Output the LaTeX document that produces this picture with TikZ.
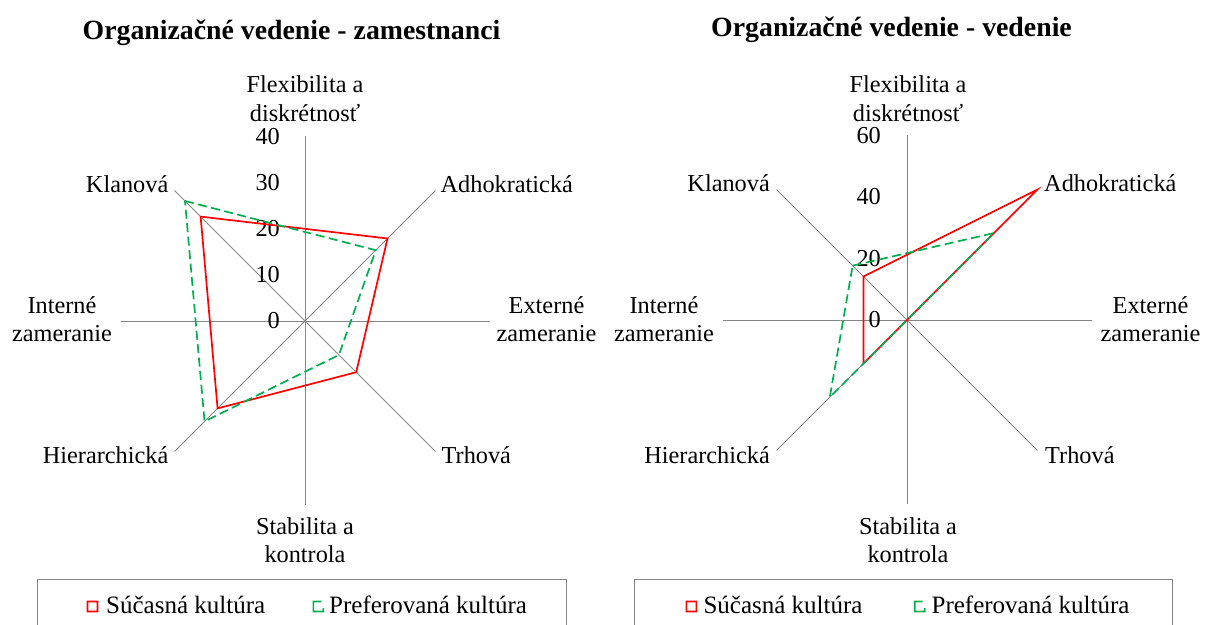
\documentclass[tikz,border=0pt]{standalone}
\usepackage{fontspec}
\setmainfont{Liberation Serif}
\usetikzlibrary{calc}
\definecolor{axisgray}{RGB}{134,134,134}
\definecolor{curred}{RGB}{255,0,0}
\definecolor{prefgreen}{RGB}{0,176,80}
\tikzset{
  axisline/.style={draw=axisgray, line width=0.9pt},
  lbl/.style={font=\fontsize{24.3}{28.4}\selectfont, inner sep=0pt, align=center},
  ticklbl/.style={font=\fontsize{24.3}{28.4}\selectfont, inner sep=0pt, anchor=east},
  charttitle/.style={font=\bfseries\fontsize{27.8}{32}\selectfont, inner sep=0pt, anchor=base},
  legtext/.style={font=\fontsize{25}{29}\selectfont, inner sep=0pt, anchor=base west},
  current/.style={draw=curred, line width=1.7pt, line join=miter},
  preferred/.style={draw=prefgreen, line width=1.7pt, line join=miter, dash pattern=on 9pt off 4.5pt},
  legendbox/.style={draw=axisgray, line width=0.9pt},
  redkey/.style={fill=curred, even odd rule},
  greenkey/.style={fill=prefgreen},
}
\def\R{184.5}
% legend key for the current culture: a red square frame
\newcommand\curkey[1]{%
  \fill[redkey] ($(#1)+(-5.8,-5.8)$) rectangle ($(#1)+(5.8,5.8)$)
                ($(#1)+(-4.2,-4.2)$) rectangle ($(#1)+(4.2,4.2)$);}
% legend key for the preferred culture: a broken green square frame
\newcommand\prefkey[1]{%
  \fill[greenkey] ($(#1)+(-5.8,-5.8)$) rectangle ($(#1)+(-4.2,5.8)$)
                  ($(#1)+(-5.8,4.2)$) rectangle ($(#1)+(3,5.8)$)
                  ($(#1)+(-5.8,-5.8)$) rectangle ($(#1)+(5.8,-4.2)$)
                  ($(#1)+(4.2,-5.8)$) rectangle ($(#1)+(5.8,-1.5)$);}
\begin{document}
\begin{tikzpicture}[x=1pt,y=1pt]
\useasboundingbox (0,0) rectangle (1205,624);

% ---------------- left chart: employees ----------------
\node[charttitle] (titleL) at (291.5,584) {Organizačné vedenie - zamestnanci};
\begin{scope}[shift={(305,303)}]
  \coordinate (lO) at (0,0);
  \coordinate (lN) at (90:\R);   \coordinate (lS) at (-90:\R);
  \coordinate (lE) at (0:\R);    \coordinate (lW) at (180:\R);
  \coordinate (lNE) at (45:\R);  \coordinate (lSW) at (-135:\R);
  \coordinate (lNW) at (135:\R); \coordinate (lSE) at (-45:\R);
  \draw[axisline] (lW) -- (lE);
  \draw[axisline] (lN) -- (lS);
  \draw[axisline] (lNW) -- (lSE);
  \draw[axisline] (lSW) -- (lNE);
  \foreach \k/\val in {0/0,1/10,2/20,3/30,4/40}
    \node[ticklbl] (ltick\k) at (-25,{\k*\R/4}) {\val};
  % current culture
  \coordinate (lrK) at (135:{32*\R/40});
  \coordinate (lrA) at (45:{25.3*\R/40});
  \coordinate (lrT) at (-45:{15.7*\R/40});
  \coordinate (lrH) at (-135:{26.8*\R/40});
  % preferred culture
  \coordinate (lgK) at (135:{36.8*\R/40});
  \coordinate (lgA) at (45:{21.7*\R/40});
  \coordinate (lgT) at (-45:{10.4*\R/40});
  \coordinate (lgH) at (-135:{30.8*\R/40});
  \draw[current] (lrK) -- (lrA) -- (lrT) -- (lrH) -- cycle;
  \draw[preferred] (lgK) -- (lgA) -- (lgT) -- (lgH) -- cycle;
\end{scope}
\node[lbl, anchor=base] (lFlex) at (305,502.8) {Flexibilita a\\diskrétnosť};
\node[lbl, anchor=base east] (lKlan) at (168.5,431) {Klanová};
\node[lbl, anchor=base west] (lAdho) at (440.5,431) {Adhokratická};
\node[lbl, anchor=base] (lInt) at (62,282) {Interné\\zameranie};
\node[lbl, anchor=base] (lExt) at (546.5,282) {Externé\\zameranie};
\node[lbl, anchor=base east] (lHier) at (168.5,160) {Hierarchická};
\node[lbl, anchor=base west] (lTrh) at (441.5,160) {Trhová};
\node[lbl, anchor=base] (lStab) at (305,61) {Stabilita a\\kontrola};

% legend
\draw[legendbox] (37,45) rectangle (566.7,-12);
\coordinate (lkeyR) at (92.5,17.5);
\coordinate (lkeyG) at (318.3,17.5);
\curkey{lkeyR}
\prefkey{lkeyG}
\node[legtext] (lkeyRt) at (106,11) {Súčasná kultúra};
\node[legtext] (lkeyGt) at (329,11) {Preferovaná kultúra};

% ---------------- right chart: management ----------------
\node[charttitle] (titleR) at (891.5,587) {Organizačné vedenie - vedenie};
\begin{scope}[shift={(907,304)}]
  \coordinate (rO) at (0,0);
  \coordinate (rN) at (90:\R);   \coordinate (rS) at (-90:\R);
  \coordinate (rE) at (0:\R);    \coordinate (rW) at (180:\R);
  \coordinate (rNE) at (45:\R);  \coordinate (rSW) at (-135:\R);
  \coordinate (rNW) at (135:\R); \coordinate (rSE) at (-45:\R);
  \draw[axisline] (rW) -- (rE);
  \draw[axisline] (rN) -- (rS);
  \draw[axisline] (rNW) -- (rSE);
  \draw[axisline] (rSW) -- (rNE);
  \foreach \k/\val in {0/0,1/20,2/40,3/60}
    \node[ticklbl] (rtick\k) at (-26,{\k*\R/3}) {\val};
  % current culture
  \coordinate (rrK) at (135:{20*\R/60});
  \coordinate (rrA) at (45:{60*\R/60});
  \coordinate (rrT) at (0,0);
  \coordinate (rrH) at (-135:{20*\R/60});
  % preferred culture
  \coordinate (rgK) at (135:{25*\R/60});
  \coordinate (rgA) at (45:{40*\R/60});
  \coordinate (rgT) at (0,0);
  \coordinate (rgH) at (-135:{35.5*\R/60});
  \draw[current] (rrK) -- (rrA) -- (rrT) -- (rrH) -- cycle;
  \draw[preferred] (rgK) -- (rgA) -- (rgT) -- (rgH) -- cycle;
\end{scope}
\node[lbl, anchor=base] (rFlex) at (908,502.8) {Flexibilita a\\diskrétnosť};
\node[lbl, anchor=base east] (rKlan) at (770,432) {Klanová};
\node[lbl, anchor=base west] (rAdho) at (1044,432) {Adhokratická};
\node[lbl, anchor=base] (rInt) at (664,282) {Interné\\zameranie};
\node[lbl, anchor=base] (rExt) at (1150.5,282) {Externé\\zameranie};
\node[lbl, anchor=base east] (rHier) at (770,160) {Hierarchická};
\node[lbl, anchor=base west] (rTrh) at (1045,160) {Trhová};
\node[lbl, anchor=base] (rStab) at (908,61) {Stabilita a\\kontrola};

% legend
\draw[legendbox] (634.3,45) rectangle (1172.7,-12);
\coordinate (rkeyR) at (691.4,17.5);
\coordinate (rkeyG) at (919.7,17.5);
\curkey{rkeyR}
\prefkey{rkeyG}
\node[legtext] (rkeyRt) at (703.3,11) {Súčasná kultúra};
\node[legtext] (rkeyGt) at (931.4,11) {Preferovaná kultúra};
\end{tikzpicture}
\end{document}
